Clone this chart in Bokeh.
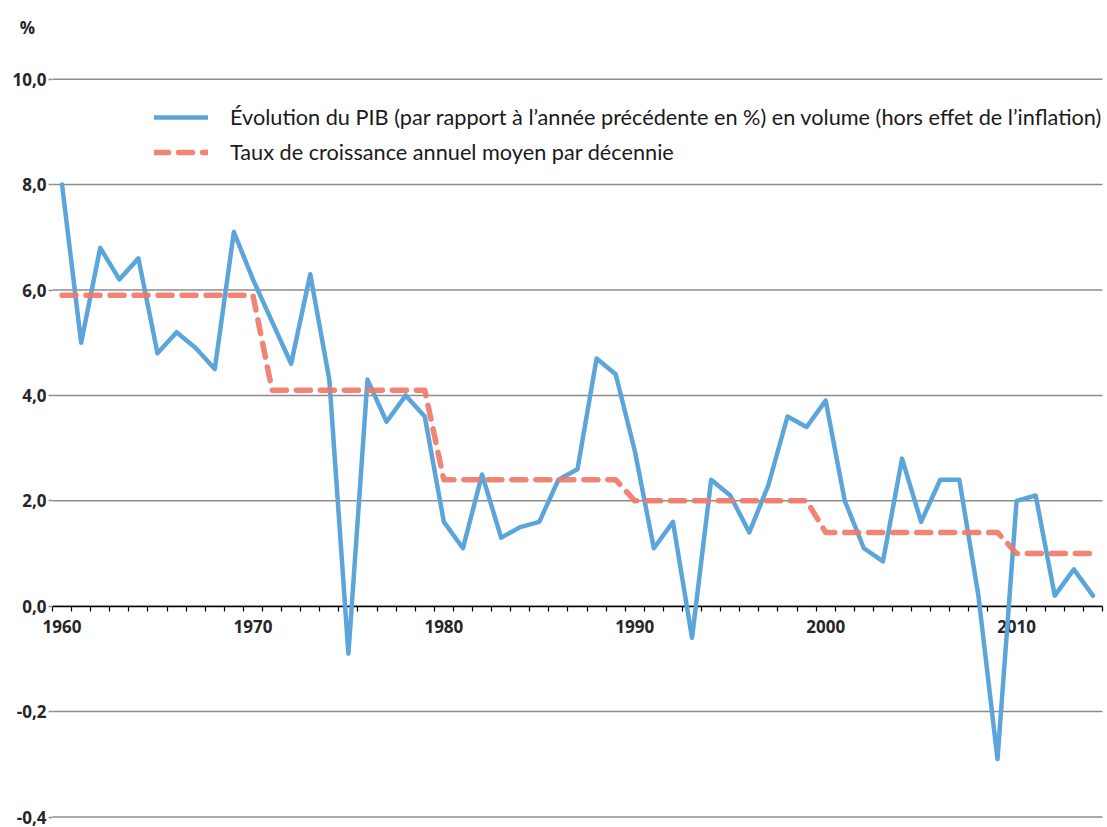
from bokeh.plotting import figure
from bokeh.models import Range1d, FixedTicker, Legend, LegendItem, Label
from bokeh.embed import file_html
from bokeh.resources import INLINE

years = list(range(1960, 2015))
pib = [8.0, 5.0, 6.8, 6.2, 6.6, 4.8, 5.2, 4.9, 4.5, 7.1,
       6.2, 5.4, 4.6, 6.3, 4.3, -0.9, 4.3, 3.5, 4.0, 3.6,
       1.6, 1.1, 2.5, 1.3, 1.5, 1.6, 2.4, 2.6, 4.7, 4.4,
       2.95, 1.1, 1.6, -0.6, 2.4, 2.1, 1.4, 2.3, 3.6, 3.4,
       3.9, 2.0, 1.1, 0.85, 2.8, 1.6, 2.4, 2.4, 0.2, -2.9,
       2.0, 2.1, 0.2, 0.7, 0.2]
decade_avg = [5.9, 5.9, 5.9, 5.9, 5.9, 5.9, 5.9, 5.9, 5.9, 5.9,
              5.9, 4.1, 4.1, 4.1, 4.1, 4.1, 4.1, 4.1, 4.1, 4.1,
              2.4, 2.4, 2.4, 2.4, 2.4, 2.4, 2.4, 2.4, 2.4, 2.4,
              2.0, 2.0, 2.0, 2.0, 2.0, 2.0, 2.0, 2.0, 2.0, 2.0,
              1.4, 1.4, 1.4, 1.4, 1.4, 1.4, 1.4, 1.4, 1.4, 1.4,
              1.0, 1.0, 1.0, 1.0, 1.0]
x_tick_years = [1960, 1970, 1980, 1990, 2000, 2010]
y_ticks = [-4, -2, 0, 2, 4, 6, 8, 10]
y_tick_labels = ["-0,4", "-0,2", "0,0", "2,0", "4,0", "6,0", "8,0", "10,0"]
label_pib = "Évolution du PIB (par rapport à l’année précédente en %) en volume (hors effet de l’inflation)"
label_avg = "Taux de croissance annuel moyen par décennie"
unit_label = "%"

FONT = "Open Sans"
LEG_FONT = "Lato"
BLUE = "#5ba5da"
RED = "#f07a68"
GRID = "#8c8c8c"
TXT = "#262626"

W, H = 1105, 827
# pixel layout of the plotting area (frame covers the whole canvas)
LEFT_PX, RIGHT_PX = 52.0, 1102.0
TOP_VAL_PX, BOT_VAL_PX = 78.7, 816.5

x_lo = years[0] - 0.5
x_hi = years[-1] + 0.5
px_per_year = (RIGHT_PX - LEFT_PX) / (x_hi - x_lo)
x_start = x_lo - LEFT_PX / px_per_year
x_end = x_start + W / px_per_year

y_top, y_bot = max(y_ticks), min(y_ticks)
px_per_unit = (BOT_VAL_PX - TOP_VAL_PX) / (y_top - y_bot)
y_end = y_top + TOP_VAL_PX / px_per_unit
y_start = y_end - H / px_per_unit

p = figure(width=W, height=H, output_backend="svg", toolbar_location=None,
           x_range=Range1d(x_start, x_end), y_range=Range1d(y_start, y_end),
           min_border=0)
p.outline_line_color = None
p.background_fill_color = "white"
p.border_fill_color = "white"
p.xgrid.visible = False
p.ygrid.visible = False

# horizontal gridlines limited to the category span
p.segment(x0=[x_lo] * len(y_ticks), x1=[x_hi] * len(y_ticks), y0=y_ticks, y1=y_ticks,
          line_color=GRID, line_width=1.5, level="image")

# x axis crossing at 0
xa = p.xaxis[0]
xa.ticker = FixedTicker(ticks=x_tick_years, minor_ticks=[y - 0.5 for y in years] + [x_hi])
xa.fixed_location = 0
xa.bounds = (x_lo, x_hi)
xa.level = "underlay"
xa.axis_line_color = "black"
xa.axis_line_width = 1.5
xa.major_tick_in = 0
xa.major_tick_out = 0
xa.minor_tick_in = 0
xa.minor_tick_out = 5
xa.minor_tick_line_color = "black"
xa.minor_tick_line_width = 1.2
xa.major_label_text_font = FONT
xa.major_label_text_font_style = "bold"
xa.major_label_text_font_size = "17px"
xa.major_label_text_color = TXT
xa.major_label_standoff = 9

ya = p.yaxis[0]
ya.ticker = FixedTicker(ticks=y_ticks)
ya.fixed_location = x_lo
ya.bounds = (y_bot, y_top)
ya.level = "underlay"
ya.major_label_overrides = {t: l for t, l in zip(y_ticks, y_tick_labels)}
ya.axis_line_color = None
ya.major_tick_in = 0
ya.major_tick_out = 4
ya.major_tick_line_color = GRID
ya.major_tick_line_width = 1.5
ya.minor_tick_line_color = None
ya.major_label_text_font = FONT
ya.major_label_text_font_style = "bold"
ya.major_label_text_font_size = "17px"
ya.major_label_text_color = TXT
ya.major_label_standoff = 2

r1 = p.line(years, pib, line_color=BLUE, line_width=4.5, line_join="round", line_cap="round")
r2 = p.line(years, decade_avg, line_color=RED, line_width=5.5, line_alpha=0.92,
            line_dash="14 10", line_join="round", line_cap="round")

legend = Legend(items=[LegendItem(label=label_pib, renderers=[r1]),
                       LegendItem(label=label_avg, renderers=[r2])],
                location=(154, H - 165), orientation="vertical")
legend.padding = 0
legend.margin = 0
legend.spacing = 9
legend.glyph_width = 54
legend.glyph_height = 26
legend.label_height = 26
legend.label_standoff = 22
legend.border_line_color = None
legend.background_fill_alpha = 0
legend.label_text_font = LEG_FONT
legend.label_text_font_size = "21.7px"
legend.label_text_color = "#1a1a1a"
p.add_layout(legend, "center")

p.add_layout(Label(x=27, y=H - 27, x_units="screen", y_units="screen", text=unit_label,
                   text_align="center", text_baseline="middle", text_font=FONT,
                   text_font_style="bold", text_font_size="17px", text_color=TXT))

open("out.html", "w").write(file_html(p, INLINE))
